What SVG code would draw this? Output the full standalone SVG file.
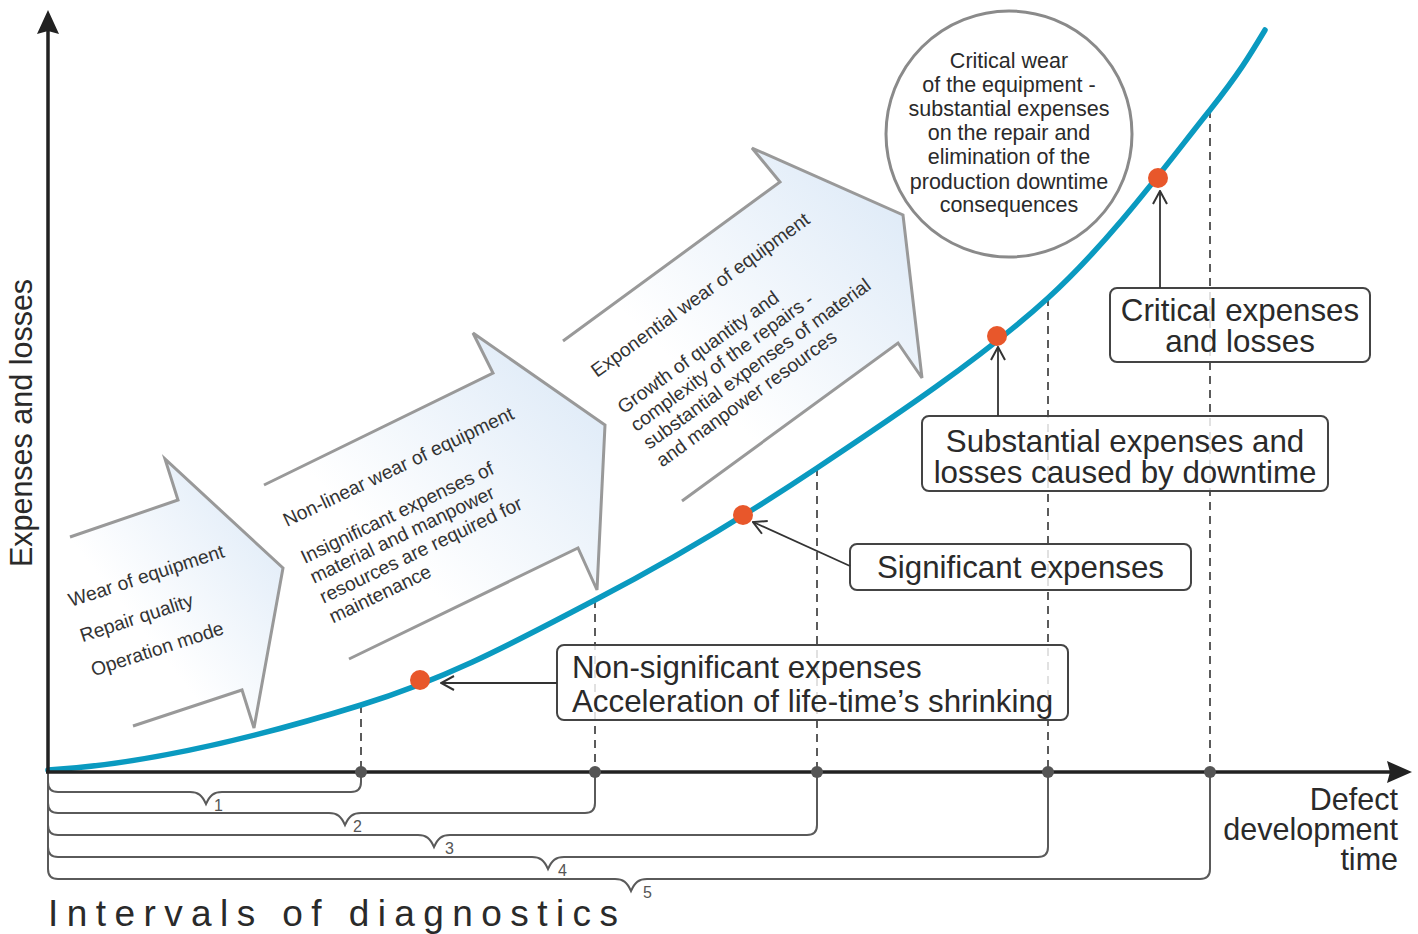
<svg xmlns="http://www.w3.org/2000/svg" width="1418" height="934" viewBox="0 0 1418 934">
<style>
text{font-family:"Liberation Sans",Arial,sans-serif;fill:#2a2a2a}
.arr{stroke:#999;stroke-width:3;fill:url(#ag);stroke-linejoin:miter}
.at{font-size:19.3px;fill:#333}
.box{fill:#fff;fill-opacity:0.82;stroke:#444;stroke-width:2}
.bt{font-size:31.3px}
.ct{font-size:21.5px;text-anchor:middle}
.dash{stroke:#333;stroke-width:1.6;stroke-dasharray:8 6;fill:none}
.br{stroke:#5a5a5a;stroke-width:2;fill:none}
.bn{font-size:16px;fill:#555}
.con{stroke:#333;stroke-width:1.8;fill:none}
.od{fill:#e8572b}
.ad{fill:#555}
</style>
<defs>
<linearGradient id="ag" x1="0" y1="1" x2="1" y2="0">
<stop offset="0.35" stop-color="#ffffff"/>
<stop offset="1" stop-color="#d9e7f6"/>
</linearGradient>
<marker id="chev" viewBox="0 0 16 16" refX="15" refY="8" markerWidth="16" markerHeight="16" markerUnits="userSpaceOnUse" orient="auto">
<path d="M2,1 L15,8 L2,15" fill="none" stroke="#333" stroke-width="2"/>
</marker>
</defs>
<rect width="1418" height="934" fill="#fff"/>

<g id="arrow1">
<path class="arr" d="M70,537 L178,500 L165,459 L283,568 L254,728 L242,690 L133,726"/>
<text class="at" transform="translate(71,607) rotate(-18)"><tspan x="0" y="0">Wear of equipment</tspan><tspan x="0" y="37">Repair quality</tspan><tspan x="0" y="73">Operation mode</tspan></text>
</g>
<g id="arrow2">
<path class="arr" d="M264,485 L493,373 L473,333 L605,425 L597,590 L578,548 L349,659"/>
<text class="at" transform="translate(287,527) rotate(-25.5)"><tspan x="0" y="0">Non-linear wear of equipment</tspan><tspan x="0" y="41">Insignificant expenses of</tspan><tspan x="0" y="63">material and manpower</tspan><tspan x="0" y="85">resources are required for</tspan><tspan x="0" y="107">maintenance</tspan></text>
</g>
<g id="arrow3">
<path class="arr" d="M563,341 L780,182 L752,148 L903,215 L922,378 L898,343 L682,501"/>
<text class="at" transform="translate(597,378) rotate(-36)"><tspan x="0" y="0">Exponential wear of equipment</tspan><tspan x="0" y="45">Growth of quantity and</tspan><tspan x="0" y="67">complexity of the repairs -</tspan><tspan x="0" y="89">substantial expenses of material</tspan><tspan x="0" y="111">and manpower resources</tspan></text>
</g>

<g id="circle-critical-wear">
<circle cx="1009" cy="134" r="123" fill="#fff" stroke="#8a8a8a" stroke-width="3"/>
<text class="ct"><tspan x="1009" y="68">Critical wear</tspan><tspan x="1009" y="92">of the equipment -</tspan><tspan x="1009" y="116">substantial expenses</tspan><tspan x="1009" y="140">on the repair and</tspan><tspan x="1009" y="164">elimination of the</tspan><tspan x="1009" y="189">production downtime</tspan><tspan x="1009" y="212">consequences</tspan></text>
</g>

<g id="dashed-lines">
<line class="dash" x1="361" y1="705" x2="361" y2="772"/>
<line class="dash" x1="595" y1="600" x2="595" y2="772"/>
<line class="dash" x1="817" y1="468" x2="817" y2="772"/>
<line class="dash" x1="1048" y1="298" x2="1048" y2="772"/>
<line class="dash" x1="1210" y1="110" x2="1210" y2="772"/>
</g>

<g id="curve">
<path d="M48,770 C150,764 269.8,733.3 361,705 C452.2,676.7 519,639.5 595,600 C671,560.5 741.5,518.3 817,468 C892.5,417.7 982.5,357.7 1048,298 C1113.5,238.3 1173.8,154.7 1210,110 C1240,72 1250,55 1265,30" fill="none" stroke="#0a9ac0" stroke-width="5.5" stroke-linecap="round"/>
</g>

<g id="box-nonsignificant">
<rect class="box" x="557" y="645" width="511" height="75" rx="7"/>
<text class="bt"><tspan x="572" y="678">Non-significant expenses</tspan><tspan x="572" y="712">Acceleration of life-time’s shrinking</tspan></text>
</g>
<g id="box-significant">
<rect class="box" x="850" y="544" width="341" height="46" rx="7"/>
<text class="bt" x="1020.5" y="578" text-anchor="middle" font-size="31.8">Significant expenses</text>
</g>
<g id="box-substantial">
<rect class="box" x="922" y="416" width="406" height="75" rx="7"/>
<text class="bt" text-anchor="middle"><tspan x="1125" y="452">Substantial expenses and</tspan><tspan x="1125" y="483">losses caused by downtime</tspan></text>
</g>
<g id="box-critical">
<rect class="box" x="1110" y="288" width="260" height="74" rx="7"/>
<text class="bt" text-anchor="middle"><tspan x="1240" y="321">Critical expenses</tspan><tspan x="1240" y="352">and losses</tspan></text>
</g>

<g id="connectors">
<path class="con" d="M557,683 L441,683" marker-end="url(#chev)"/>
<path class="con" d="M850,566 L753,522" marker-end="url(#chev)"/>
<path class="con" d="M998,416 L998,347" marker-end="url(#chev)"/>
<path class="con" d="M1160,288 L1160,191" marker-end="url(#chev)"/>
</g>

<g id="points">
<circle class="od" cx="420" cy="680" r="10"/>
<circle class="od" cx="743" cy="515" r="10"/>
<circle class="od" cx="997" cy="336" r="10"/>
<circle class="od" cx="1158" cy="178" r="10"/>
</g>

<g id="brackets">
<path class="br" d="M48,772 V782 Q48,792 58,792 H190 C198,792 202,795 206,804 C210,795 214,792 222,792 H351 Q361,792 361,782 V772"/>
<path class="br" d="M48,772 V803 Q48,813 58,813 H329 C337,813 341,816 345,825 C349,816 353,813 361,813 H585 Q595,813 595,803 V772"/>
<path class="br" d="M48,772 V825 Q48,835 58,835 H418 C426,835 430,838 434,847 C438,838 442,835 450,835 H807 Q817,835 817,825 V772"/>
<path class="br" d="M48,772 V847 Q48,857 58,857 H532 C540,857 544,860 548,869 C552,860 556,857 564,857 H1038 Q1048,857 1048,847 V772"/>
<path class="br" d="M48,772 V869 Q48,879 58,879 H615 C623,879 627,882 631,891 C635,882 639,879 647,879 H1200 Q1210,879 1210,869 V772"/>
<text class="bn" x="214" y="811">1</text>
<text class="bn" x="353" y="832">2</text>
<text class="bn" x="445" y="854">3</text>
<text class="bn" x="558" y="876">4</text>
<text class="bn" x="643" y="898">5</text>
</g>

<g id="axes">
<line x1="48" y1="772" x2="48" y2="30" stroke="#222" stroke-width="3.5"/>
<line x1="46" y1="772" x2="1392" y2="772" stroke="#222" stroke-width="3.5"/>
<path d="M48,10 L59,34 L48,31 L37,34 Z" fill="#222"/>
<path d="M1412,772 L1387,783 L1390,772 L1387,761 Z" fill="#222"/>
<circle class="ad" cx="361" cy="772" r="6"/>
<circle class="ad" cx="595" cy="772" r="6"/>
<circle class="ad" cx="817" cy="772" r="6"/>
<circle class="ad" cx="1048" cy="772" r="6"/>
<circle class="ad" cx="1210" cy="772" r="6"/>
</g>

<g id="labels">
<text transform="translate(32,423) rotate(-90)" text-anchor="middle" font-size="30.5">Expenses and losses</text>
<text text-anchor="end" font-size="30.5"><tspan x="1398" y="810">Defect</tspan><tspan x="1398" y="840">development</tspan><tspan x="1398" y="870">time</tspan></text>
<text x="48" y="926" font-size="37" textLength="570" lengthAdjust="spacing">Intervals of diagnostics</text>
</g>
</svg>
